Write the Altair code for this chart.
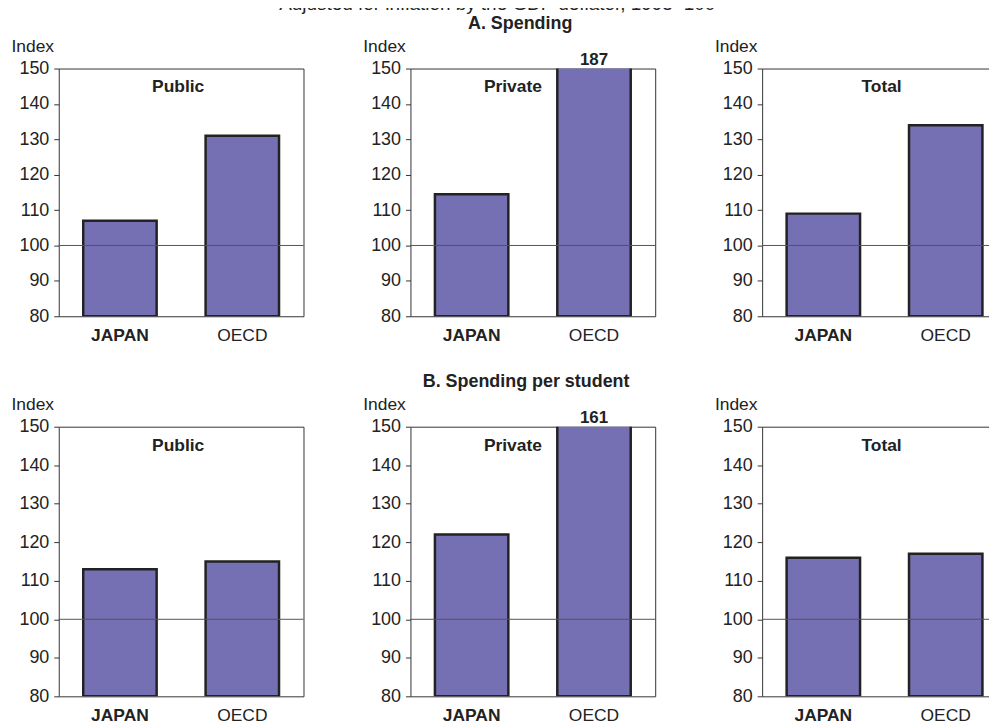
import altair as alt
import pandas as pd

# ---- data ----
countries = ["JAPAN", "OECD"]
panel_names = ["Public", "Private", "Total"]
spending_public = [107, 131]
spending_private = [114.5, 187]
spending_total = [109, 134]
per_student_public = [113, 115]
per_student_private = [122, 161]
per_student_total = [116, 117]
base_index = 100
y_ticks = [80, 90, 100, 110, 120, 130, 140, 150]

FONT = "Liberation Sans"
BAR_FILL = "#7570b3"
BAR_STROKE = "#222222"
TEXT = "#222222"

label_x = {"Public": 120, "Private": 103, "Total": 120}

x_label_weight = {"condition": {"test": "datum.value == 'JAPAN'", "value": "bold"}, "value": "normal"}


def y_axis():
    return alt.Axis(values=y_ticks, title="Index", titleAngle=0,
                    titleX=-48, titleY=-17, titleAlign="left",
                    titleBaseline="alphabetic", titleFontWeight="normal",
                    titleFontSize=17.5, titleFont=FONT, titleColor=TEXT,
                    tickSize=5, tickColor="#333333", labelPadding=5,
                    labelFontSize=18, labelFont=FONT, labelColor=TEXT,
                    labelOverlap=False, grid=False, domain=False)


def panel(values, name, height):
    df = pd.DataFrame({"country": countries, "value": values})
    xenc = alt.X(
        "country:N",
        sort=countries,
        scale=alt.Scale(paddingInner=0.4, paddingOuter=0.2),
        axis=alt.Axis(title=None, labelAngle=0, ticks=False, domain=False,
                      labelFontSize=17.5, labelPadding=10, labelColor=TEXT,
                      labelFont=FONT, labelFontWeight=x_label_weight),
    )
    yscale = alt.Scale(domain=[80, 150], nice=False, zero=False)
    bars = alt.Chart(df).mark_bar(
        color=BAR_FILL, stroke=BAR_STROKE, strokeWidth=2.5, clip=True
    ).encode(
        x=xenc,
        y=alt.Y("value:Q", scale=yscale, axis=y_axis()),
        y2=alt.datum(80),
    )
    rule = alt.Chart(pd.DataFrame({"ref": [base_index]})).mark_rule(
        color="#555555", strokeWidth=1
    ).encode(y=alt.Y("ref:Q", scale=yscale, axis=y_axis()))
    label = alt.Chart(pd.DataFrame({"t": [name]})).mark_text(
        font=FONT, fontSize=17.5, fontWeight="bold", color=TEXT,
        align="center", baseline="alphabetic"
    ).encode(text="t:N", x=alt.value(label_x[name]), y=alt.value(24))
    layers = [bars, rule, label]
    over = df[df["value"] > 150]
    if len(over):
        layers.append(
            alt.Chart(over).mark_text(
                font=FONT, fontSize=17, fontWeight="bold", color=TEXT,
                align="center", baseline="alphabetic"
            ).encode(x=alt.X("country:N", sort=countries),
                     y=alt.value(-4),
                     text=alt.Text("value:Q", format=".0f"))
        )
    return alt.layer(*layers).properties(width=246, height=height)


row_a = alt.hconcat(
    panel(spending_public, "Public", 249),
    panel(spending_private, "Private", 249),
    panel(spending_total, "Total", 249),
    spacing=57.5,
    title=alt.TitleParams("A. Spending", fontSize=18, fontWeight="bold", font=FONT,
                          color=TEXT, anchor="middle", baseline="alphabetic",
                          offset=-9.5, dx=11),
)
row_b = alt.hconcat(
    panel(per_student_public, "Public", 271),
    panel(per_student_private, "Private", 271),
    panel(per_student_total, "Total", 271),
    spacing=57.5,
    title=alt.TitleParams("B. Spending per student", fontSize=18, fontWeight="bold",
                          font=FONT, color=TEXT, anchor="middle",
                          baseline="alphabetic", offset=-9.5, dx=17),
)

chart = alt.vconcat(
    row_a, row_b, spacing=29,
    title=alt.TitleParams("Adjusted for inflation by the GDP deflator, 1995=100",
                          fontSize=19, fontWeight="normal", font=FONT, color=TEXT,
                          anchor="middle", baseline="alphabetic", offset=-14,
                          dx=-12),
).properties(
    padding={"left": 2, "top": -15, "right": -19, "bottom": 0},
    background="white",
).configure_view(
    stroke="#333333", strokeWidth=1
)

chart.save("out.html", embed_options={"renderer": "svg", "actions": False})
